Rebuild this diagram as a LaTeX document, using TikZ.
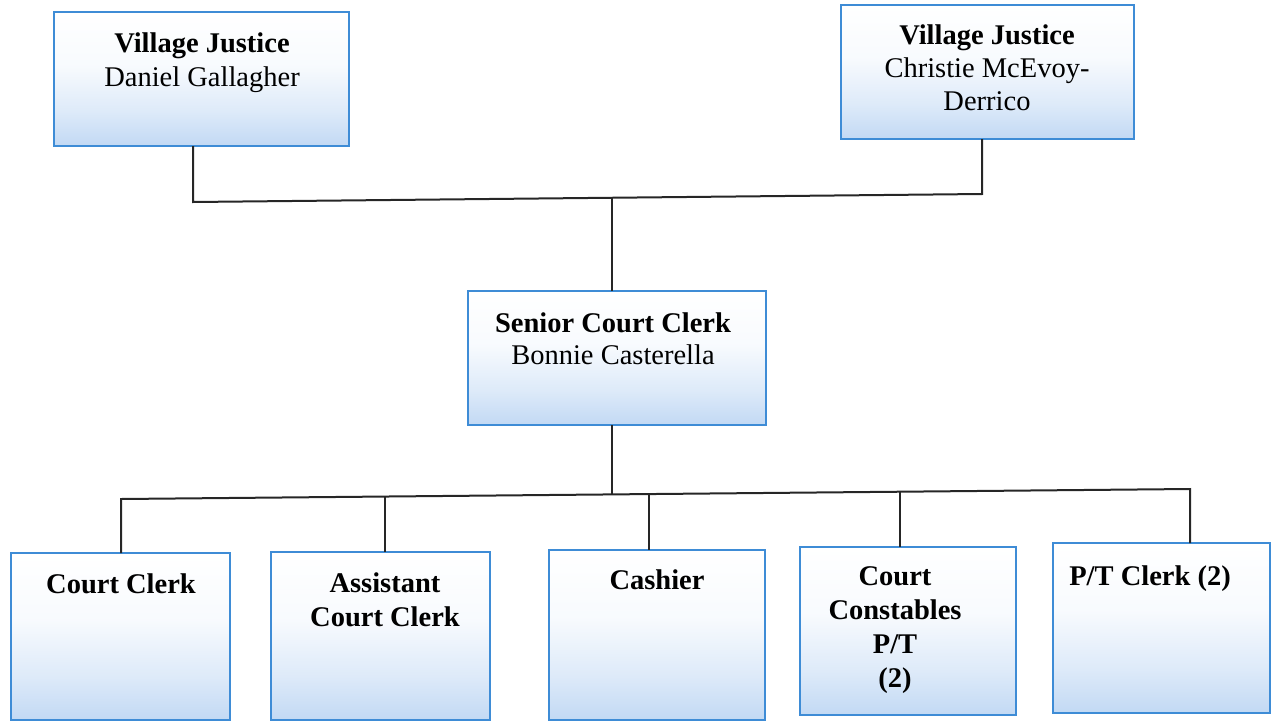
\documentclass[tikz,border=0pt]{standalone}
\usepackage{fontspec}
\setmainfont{Liberation Serif}
\begin{document}
\definecolor{boxline}{RGB}{62,140,214}
\definecolor{boxfill}{RGB}{194,217,244}
% white at the top, turning light blue towards the bottom edge
\pgfdeclareverticalshading{orgshade}{100bp}{color(0bp)=(boxfill); color(25bp)=(boxfill);
  color(38bp)=(white!45!boxfill); color(55bp)=(white!88!boxfill); color(75bp)=(white); color(100bp)=(white)}
\begin{tikzpicture}[x=1pt,y=-1pt,
  orgbox/.style={draw=boxline, line width=2pt, rectangle, inner sep=0pt, outer sep=0pt,
    anchor=north west, shading=orgshade},
  % anchor=base sits on the baseline of the last line
  orgtext/.style={anchor=base, align=center, inner sep=0pt,
    font=\fontsize{28.5}{34}\selectfont},
  link/.style={line width=2pt, black!85}]
\useasboundingbox (0,0) rectangle (1271,723);

% upper level
\node[orgbox, minimum width=295pt, minimum height=134pt] (vj1) at (54,12) {};
\node[orgbox, minimum width=293pt, minimum height=134pt] (vj2) at (841,5) {};
\node[orgtext] (vj1t) at (202,86) {\textbf{Village Justice}\\Daniel Gallagher};
\node[orgtext, font=\fontsize{28.5}{33}\selectfont] (vj2t) at (987,110) {\textbf{Village Justice}\\Christie McEvoy-\\Derrico};

% middle level
\node[orgbox, minimum width=298pt, minimum height=134pt] (sc) at (468,291) {};
\node[orgtext, font=\fontsize{28.5}{32}\selectfont] (sct) at (613,364) {\textbf{Senior Court Clerk}\\Bonnie Casterella};

% lower level
\node[orgbox, minimum width=219pt, minimum height=167pt] (cc) at (11,553) {};
\node[orgbox, minimum width=219pt, minimum height=168pt] (acc) at (271,552) {};
\node[orgbox, minimum width=216pt, minimum height=170pt] (cash) at (549,550) {};
\node[orgbox, minimum width=216pt, minimum height=168pt] (con) at (800,547) {};
\node[orgbox, minimum width=217pt, minimum height=170pt] (ptc) at (1053,543) {};
\node[orgtext] (cct) at (121,593) {\textbf{Court Clerk}};
\node[orgtext] (acct) at (385,626) {\textbf{Assistant}\\\textbf{Court Clerk}};
\node[orgtext] (casht) at (657,589) {\textbf{Cashier}};
\node[orgtext, font=\fontsize{28.5}{33.7}\selectfont] (cont) at (895,687) {\textbf{Court}\\\textbf{Constables}\\\textbf{P/T}\\\textbf{(2)}};
\node[orgtext] (ptct) at (1150,585) {\textbf{P/T Clerk (2)}};

% bus junctions
\coordinate (ta) at (193,202);
\coordinate (tb) at (982,194);
\coordinate (tm) at (612,198);
\coordinate (ba) at (121,499);
\coordinate (bb) at (1190,489);
\coordinate (bm) at (612,495);
\coordinate (b2) at (385,497);
\coordinate (b3) at (649,494);
\coordinate (b4) at (900,492);

% connectors
\draw[link] (vj1.south -| ta) -- (ta) -- (tb) -- (vj2.south -| tb);
\draw[link] (tm) -- (sc.north -| tm);
\draw[link] (sc.south -| bm) -- (bm);
\draw[link] (cc.north -| ba) -- (ba) -- (bb) -- (ptc.north -| bb);
\draw[link] (b2) -- (acc.north -| b2);
\draw[link] (b3) -- (cash.north -| b3);
\draw[link] (b4) -- (con.north -| b4);
\end{tikzpicture}
\end{document}
